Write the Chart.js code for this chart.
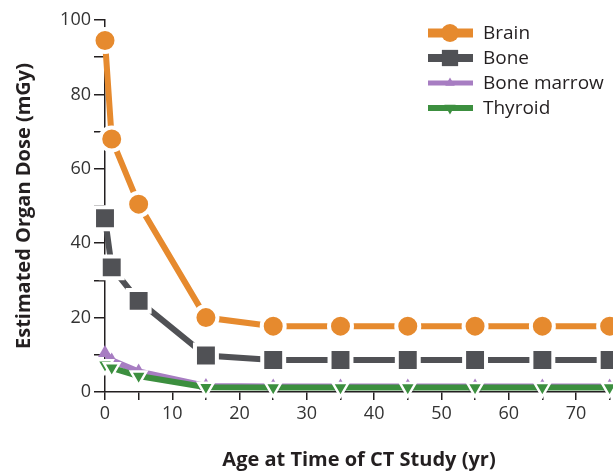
<!DOCTYPE html>
<html>
<head>
<meta charset="utf-8">
<script src="https://cdn.jsdelivr.net/npm/chart.js@4"></script>
<style>
  html, body { margin: 0; padding: 0; background: #fff; }
  #wrap { width: 613px; height: 472px; }
</style>
</head>
<body>
<div id="wrap"><canvas id="dosis"></canvas></div>
<script>
// edades (años) y dosis estimadas (mGy)
const edades = [0, 1, 5, 15, 25, 35, 45, 55, 65, 75];
const cerebro = [94.5, 68, 50.5, 20, 17.7, 17.7, 17.7, 17.7, 17.7, 17.7];
const hueso = [46.7, 33.5, 24.5, 9.8, 8.6, 8.6, 8.6, 8.6, 8.6, 8.6];
const medula = [10.5, 8.5, 5.5, 1.6, 1.5, 1.5, 1.5, 1.5, 1.5, 1.5];
const tiroides = [7.3, 6.5, 4.3, 1.3, 1.2, 1.2, 1.2, 1.2, 1.2, 1.2];
const nombres = ['Brain', 'Bone', 'Bone marrow', 'Thyroid'];

const colores = ['#e68a2e', '#505155', '#a77dc2', '#3c8f3f'];
const fuente = "'Open Sans', sans-serif";

function puntos(valores) {
    return edades.map((x, i) => ({ x: x, y: valores[i] }));
}

// leyenda dibujada a mano arriba a la derecha
const leyenda = {
    id: 'leyenda',
    afterDraw(chart) {
        const ctx = chart.ctx;
        const estilos = [
            { pointStyle: 'circle', radius: 9, rotation: 0, ancho: 9 },
            { pointStyle: 'rect', radius: 11.5, rotation: 0, ancho: 8 },
            { pointStyle: 'triangle', radius: 5.5, rotation: 0, ancho: 5 },
            { pointStyle: 'triangle', radius: 6.5, rotation: 180, ancho: 6 }
        ];
        ctx.save();
        ctx.font = '19px ' + fuente;
        ctx.textBaseline = 'middle';
        nombres.forEach((n, i) => {
            const y = 33 + i * 25;
            ctx.strokeStyle = colores[i];
            ctx.lineWidth = estilos[i].ancho;
            ctx.beginPath();
            ctx.moveTo(428, y);
            ctx.lineTo(473, y);
            ctx.stroke();
            ctx.fillStyle = colores[i];
            ctx.lineWidth = 0;
            Chart.helpers.drawPoint(ctx, estilos[i], 450, y);
            ctx.fillStyle = '#231f20';
            ctx.fillText(n, 483, y + 1);
        });
        ctx.restore();
    }
};

const base = {
    borderWidth: 6,
    pointBorderColor: '#ffffff',
    fill: false,
    tension: 0,
    clip: false
};

new Chart(document.getElementById('dosis'), {
    type: 'line',
    data: {
        datasets: [
            Object.assign({}, base, { label: nombres[0], data: puntos(cerebro), borderColor: colores[0], backgroundColor: colores[0], pointStyle: 'circle', pointRadius: 11.5, pointBorderWidth: 4, order: 0 }),
            Object.assign({}, base, { label: nombres[1], data: puntos(hueso), borderColor: colores[1], backgroundColor: colores[1], pointStyle: 'rect', pointRadius: 15.5, pointBorderWidth: 4, order: 1 }),
            Object.assign({}, base, { label: nombres[2], data: puntos(medula), borderColor: colores[2], backgroundColor: colores[2], pointStyle: 'triangle', pointRadius: 8, pointBorderWidth: 0, order: 3 }),
            Object.assign({}, base, { label: nombres[3], data: puntos(tiroides), borderColor: colores[3], backgroundColor: colores[3], pointBackgroundColor: colores[3], pointStyle: 'triangle', pointRotation: 180, pointRadius: 9, pointBorderWidth: 2.5, order: 2 })
        ]
    },
    options: {
        responsive: true,
        maintainAspectRatio: false,
        animation: false,
        layout: { autoPadding: false, padding: { top: 20, right: 0, left: 0, bottom: 0 } },
        plugins: {
            legend: { display: false },
            tooltip: { enabled: false }
        },
        scales: {
            x: {
                type: 'linear',
                min: 0,
                max: 75.5,
                afterFit: (s) => { s.height = 80; },
                border: { color: '#231f20', width: 1.5 },
                grid: { drawOnChartArea: false, drawTicks: true, tickLength: 8, color: '#231f20', lineWidth: 1.5 },
                ticks: {
                    stepSize: 5,
                    includeBounds: false,
                    autoSkip: false,
                    maxRotation: 0,
                    padding: 3,
                    color: '#333',
                    font: { family: fuente, size: 18 },
                    callback: (v) => (v % 10 === 0 ? v : '')
                },
                title: {
                    display: true,
                    text: 'Age at Time of CT Study (yr)',
                    color: '#231f20',
                    font: { family: fuente, size: 20, weight: 'bold' },
                    padding: { top: 0, bottom: 0 }
                }
            },
            y: {
                min: 0,
                max: 100,
                afterFit: (s) => { s.width = 105; },
                border: { color: '#231f20', width: 1.5 },
                grid: { drawOnChartArea: false, drawTicks: true, tickLength: 11, color: '#231f20', lineWidth: 1.5 },
                ticks: {
                    stepSize: 10,
                    autoSkip: false,
                    padding: 3,
                    color: '#333',
                    font: { family: fuente, size: 18 },
                    callback: (v) => (v % 20 === 0 ? v : '')
                },
                title: {
                    display: true,
                    text: 'Estimated Organ Dose (mGy)',
                    color: '#231f20',
                    font: { family: fuente, size: 20, weight: 'bold' },
                    padding: { top: 12, bottom: 0 }
                }
            }
        }
    },
    plugins: [leyenda]
});
</script>
</body>
</html>
